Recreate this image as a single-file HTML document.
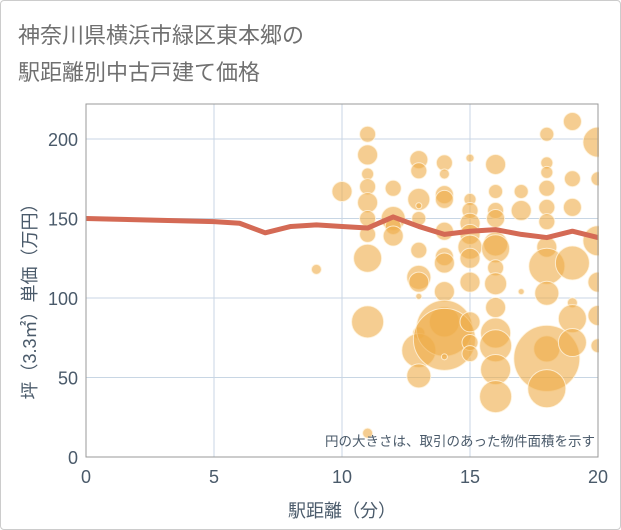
<!DOCTYPE html>
<html><head><meta charset="utf-8">
<style>
html,body{margin:0;padding:0;background:#fff;}
#wrap{position:relative;width:619px;height:528px;border:1px solid #ccc;border-radius:4px;overflow:hidden;font-family:"Liberation Sans","Noto Sans CJK JP",sans-serif;}
svg{position:absolute;left:0;top:0;}
</style></head>
<body>
<div id="wrap">
<svg id="chart" width="621" height="530"></svg>
</div>
<script>
const xTicks=[0,5,10,15,20];
const yTicks=[0,50,100,150,200];
const bubbleX=[9,10,11,11,11,11,11,11,11,11,11,11,12,12,12,12,13,13,13,13,13,13,13,13,13,13,13,13,14,14,14,14,14,14,14,14,14,14,14,14,15,15,15,15,15,15,15,15,15,15,15,16,16,16,16,16,16,16,16,16,16,16,16,16,17,17,17,18,18,18,18,18,18,18,18,18,18,18,18,19,19,19,19,19,19,19,20,20,20,20,20,20];
const bubbleY=[118,167,203,190,178,170,160,150,140,125,85,15,169,150,145,139,187,180,162,158,150,130,113,110,101,78,67,51,185,178,165,162,142,126,122,104,85,81,74,63,188,162,155,147,140,132,125,110,85,72,65,184,167,155,150,134,131,119,109,94,78,70,55,38,167,155,104,203,185,179,169,157,148,132,120,103,68,62,43,211,175,157,122,97,87,72,198,175,136,110,89,70];
const bubbleR=[5,10,8,10,6,8,10,8,8,14,16,5,8,12,8,10,9,8,11,3,7,8,12,10,3,6,17,12,8,5,9,9,9,9,10,10,15,28,31,3,4,6,8,10,10,12,10,10,10,8,8,10,7,8,9,12,14,8,11,10,15,16,15,16,7,10,3,7,6,6,8,8,8,10,18,12,13,33,19,9,8,9,17,5,14,14,15,7,15,10,10,7];
const lineX=[0,1,2,3,4,5,6,7,8,9,10,11,12,13,14,15,16,17,18,19,20];
const lineY=[150,149.6,149.2,148.8,148.4,148,147,141,145,146,145,144,151,145,140,142,143,140,138,142,138];

const L=85,R=597,T=103,B=456;
const xs=v=>L+(v-0)/20*(R-L);
const ys=v=>B-(v/200)*(B-138);
const svg=document.getElementById('chart');
const NS='http://www.w3.org/2000/svg';
function mk(tag,attrs,parent){const e=document.createElementNS(NS,tag);for(const k in attrs)e.setAttribute(k,attrs[k]);(parent||svg).appendChild(e);return e;}

const t1=mk('text',{x:17,y:42,'font-size':22,fill:'#707070'});


t1.textContent='神奈川県横浜市緑区東本郷の';
const t2=mk('text',{x:17,y:79,'font-size':22,fill:'#707070'});


t2.textContent='駅距離別中古戸建て価格';

const grid=mk('g',{});


xTicks.forEach(v=>{
  const l=mk('line',{x1:xs(v),x2:xs(v),y1:T,y2:B,stroke:'#c8d6e4','stroke-width':1},grid);
  
  
  const tx=mk('text',{x:xs(v),y:482,'font-size':18,fill:'#4a5a6a','text-anchor':'middle'});
  
  
  tx.textContent=v;
});
yTicks.forEach(v=>{
  const l=mk('line',{x1:L,x2:R,y1:ys(v),y2:ys(v),stroke:'#c8d6e4','stroke-width':1},grid);
  
  
  const tx=mk('text',{x:77,y:ys(v)+7,'font-size':18,fill:'#4a5a6a','text-anchor':'end'});
  
  
  tx.textContent=v;
});

const bg=mk('g',{});


bubbleX.forEach((x,i)=>{
  const c=mk('circle',{cx:xs(x),cy:ys(bubbleY[i]),r:bubbleR[i],fill:'rgba(238,172,72,0.6)',stroke:'rgba(255,245,225,0.8)','stroke-width':1},bg);
  
  
});

const pts=lineX.map((x,i)=>xs(x)+','+ys(lineY[i])).join(' ');
const pl=mk('polyline',{points:pts,fill:'none',stroke:'#d46a55','stroke-width':5,'stroke-linejoin':'round'});



const cover=mk('rect',{x:R+1,y:T,width:30,height:B-T+2,fill:'#fff'});



const box=mk('rect',{x:L,y:T,width:R-L,height:B-T,fill:'none',stroke:'#999','stroke-width':1});



const note=mk('text',{x:594,y:445,'font-size':13.5,fill:'#4a5a6a','text-anchor':'end'});


note.textContent='円の大きさは、取引のあった物件面積を示す';

const xt=mk('text',{x:341,y:516,'font-size':18,fill:'#4a5a6a','text-anchor':'middle'});


xt.textContent='駅距離（分）';
const yt=mk('text',{x:0,y:0,'font-size':18,fill:'#4a5a6a','text-anchor':'middle',transform:'translate(35,296) rotate(-90)'});


yt.textContent='坪（3.3㎡）単価（万円）';
</script>
</body></html>
